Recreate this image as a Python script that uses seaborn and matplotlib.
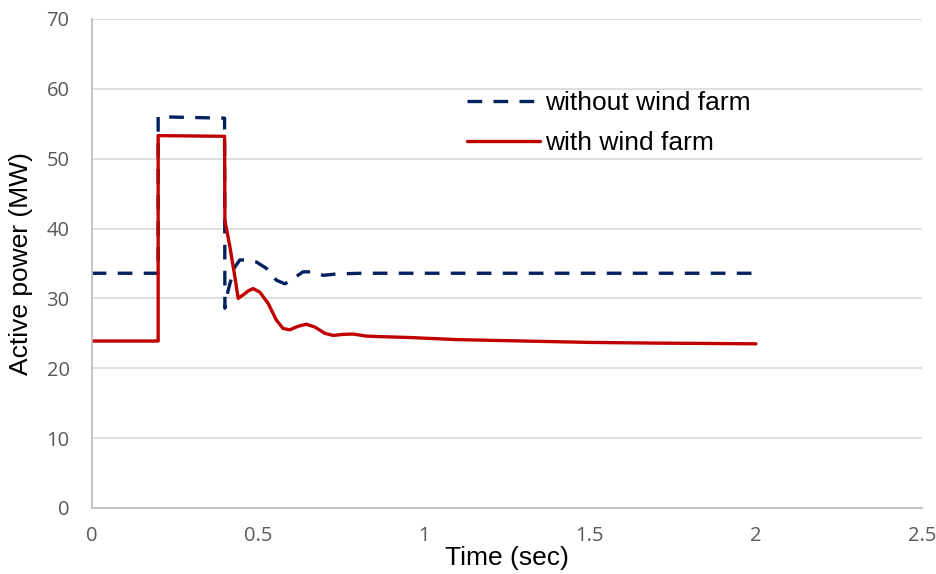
import numpy as np
import pandas as pd
import matplotlib
matplotlib.use("Agg")
from matplotlib import pyplot as plt
import seaborn as sns

# without wind farm (dashed)
t_without = [0, 0.2, 0.2, 0.4, 0.401, 0.406, 0.416, 0.431, 0.446, 0.47, 0.496, 0.526,
             0.556, 0.581, 0.596, 0.615, 0.636, 0.667, 0.697, 0.737, 0.816, 1.0, 1.5, 2.0]
p_without = [33.6, 33.6, 56.0, 55.8, 28.6, 30.2, 32.1, 34.5, 35.5, 35.5, 35.2, 34.3,
             32.6, 32.1, 32.4, 33.1, 33.8, 33.8, 33.3, 33.5, 33.6, 33.6, 33.6, 33.6]

# with wind farm (solid)
t_with = [0, 0.2, 0.2, 0.4, 0.401, 0.416, 0.431, 0.441, 0.456, 0.472, 0.486, 0.506,
          0.531, 0.556, 0.576, 0.596, 0.621, 0.646, 0.672, 0.702, 0.727, 0.757, 0.787,
          0.827, 0.887, 0.958, 1.1, 1.3, 1.5, 1.7, 2.0]
p_with = [23.9, 23.9, 53.3, 53.2, 41.2, 37.4, 33.1, 30.0, 30.5, 31.1, 31.4, 30.9,
          29.3, 26.9, 25.7, 25.5, 26.0, 26.3, 25.9, 25.0, 24.7, 24.85, 24.9,
          24.6, 24.5, 24.4, 24.1, 23.9, 23.7, 23.6, 23.5]

x_ticks = [0, 0.5, 1, 1.5, 2, 2.5]
x_tick_labels = ["0", "0.5", "1", "1.5", "2", "2.5"]
y_ticks = [0, 10, 20, 30, 40, 50, 60, 70]

df = pd.concat([
    pd.DataFrame({"t": t_without, "p": p_without, "series": "without wind farm"}),
    pd.DataFrame({"t": t_with, "p": p_with, "series": "with wind farm"}),
], ignore_index=True)

sns.set_theme(style="white")
plt.rcParams['font.family'] = ['Liberation Sans', 'DejaVu Sans']

fig = plt.figure(figsize=(9.36, 5.74), dpi=100)
ax = fig.add_axes([0.098, 0.115, 0.887, 0.852])

sns.lineplot(data=df, x="t", y="p", hue="series", style="series",
             palette={"without wind farm": "#002060", "with wind farm": "#c00000"},
             dashes={"without wind farm": (4.4, 3.4), "with wind farm": ""},
             sort=False, estimator=None, linewidth=2.4, ax=ax)
for ln in ax.get_lines():
    ln.set_solid_joinstyle("round")
    ln.set_dash_joinstyle("round")

ax.set_xlim(0, 2.5)
ax.set_ylim(0, 70)
ax.set_xticks(x_ticks)
ax.set_xticklabels(x_tick_labels)
ax.set_yticks(y_ticks)
ax.yaxis.grid(True, color="#d9d9d9", linewidth=1.2)
ax.xaxis.grid(False)
ax.set_axisbelow(True)
ax.tick_params(axis="x", length=0, pad=13)
ax.tick_params(axis="y", length=0, pad=16)
for lab in ax.get_xticklabels() + ax.get_yticklabels():
    lab.set_fontfamily(["Open Sans", "DejaVu Sans"])
    lab.set_fontsize(14.5)
    lab.set_color("#595959")

for s in ["top", "right"]:
    ax.spines[s].set_visible(False)
for s in ["left", "bottom"]:
    ax.spines[s].set_color("#bfbfbf")
    ax.spines[s].set_linewidth(1.3)

ax.set_xlabel("Time (sec)", fontsize=19, color="black")
ax.set_ylabel("Active power (MW)", fontsize=19, color="black")
ax.xaxis.set_label_coords(0.5, -0.078)
ax.yaxis.set_label_coords(-0.071, 0.5)

leg = ax.legend(title=None, loc="upper left", bbox_to_anchor=(0.452, 0.853), frameon=False,
                fontsize=19, handlelength=2.77, handletextpad=0.2, labelspacing=0.62,
                borderpad=0, borderaxespad=0)
for txt in leg.get_texts():
    txt.set_color("black")

fig.savefig("out.png", dpi=100)
